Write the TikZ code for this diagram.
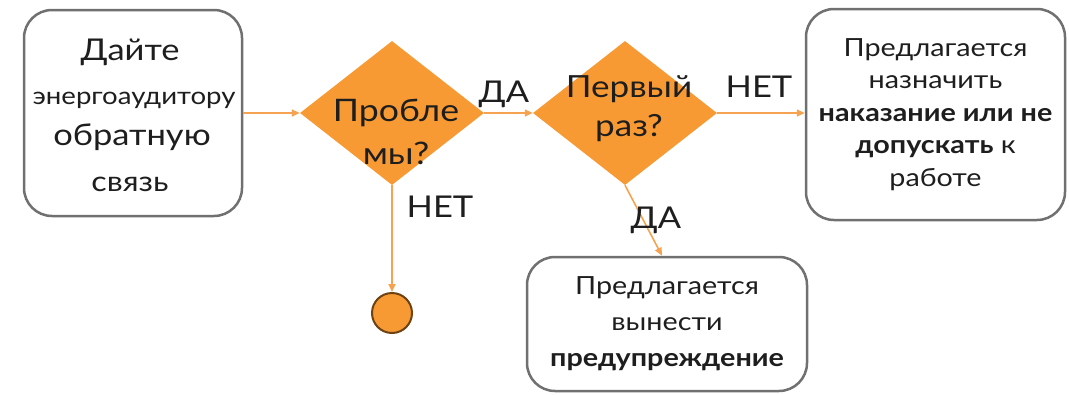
\documentclass[tikz,border=0pt]{standalone}
\usepackage{fontspec}
\setmainfont[FakeStretch=1.15]{Lato}
\usetikzlibrary{shapes.geometric,arrows.meta}

\definecolor{flowor}{RGB}{247,154,52}
\definecolor{lineor}{RGB}{245,163,80}
\definecolor{boxgray}{RGB}{112,112,112}
\definecolor{dotrim}{RGB}{110,66,18}
\definecolor{ink}{RGB}{30,30,30}

\begin{document}
\begin{tikzpicture}[x=1pt,y=-1pt,
  card/.style={draw=boxgray, line width=2.5pt, rounded corners=28pt, fill=white, inner sep=0pt, text=ink, align=center},
  choice/.style={diamond, fill=flowor, inner sep=0pt, minimum width=184pt, minimum height=144pt},
  flow/.style={draw=lineor, line width=1.6pt, -{Triangle[length=8pt,width=7pt]}},
  lbl/.style={anchor=base, text=ink, font=\fontsize{30}{30}\selectfont},
  words/.style={text=ink, align=center}]

\useasboundingbox (0,0) rectangle (1069,394);

% boxes
\node[card, minimum width=218pt, minimum height=206pt] (feedback) at (133,113) {};
\node[card, minimum width=259pt, minimum height=211pt,
      font=\fontsize{25}{32.5}\selectfont] (penalty) at (935.5,114.5)
  {Предлагается\\назначить\\\textbf{наказание или не}\\\textbf{допускать} к\\работе};
\node[card, minimum width=280pt, minimum height=134pt,
      font=\fontsize{25}{36}\selectfont] (warning) at (667,324)
  {Предлагается\\вынести\\\textbf{предупреждение}};

% text lines of the first box
\node[lbl, font=\fontsize{30}{30}\selectfont] (fb1) at (130,60) {Дайте};
\node[lbl, font=\fontsize{24}{24}\selectfont] (fb2) at (134,104) {энергоаудитору};
\node[lbl, font=\fontsize{30}{30}\selectfont] (fb3) at (132,145) {обратную};
\node[lbl, font=\fontsize{28}{28}\selectfont] (fb4) at (130,191) {связь};

% decisions
\node[choice] (problems) at (392,113) {};
\node[choice] (first) at (625,113) {};
\node[words, font=\fontsize{31}{43}\selectfont] (problemsq) at (396,132) {Пробле\\мы?};
\node[words, font=\fontsize{30.5}{39}\selectfont] (firstq) at (629,109) {Первый\\раз?};

% terminal
\node[circle, fill=flowor, draw=dotrim, line width=2pt, minimum size=40pt, inner sep=0pt] (stop) at (392,313) {};

% connectors
\draw[flow] (feedback.east) -- (problems.west);
\draw[flow] (problems.east) -- (first.west);
\draw[flow] (first.east) -- (first.east -| penalty.west);
\draw[flow] (problems.south) -- (stop.north);
\draw[flow] (first.south) -- ([xshift=-5pt]warning.north);

% branch labels
\node[lbl] (yes1) at (504,102) {ДА};
\node[lbl] (no1) at (759,97) {НЕТ};
\node[lbl] (no2) at (440,217) {НЕТ};
\node[lbl] (yes2) at (656,228) {ДА};

\end{tikzpicture}
\end{document}
